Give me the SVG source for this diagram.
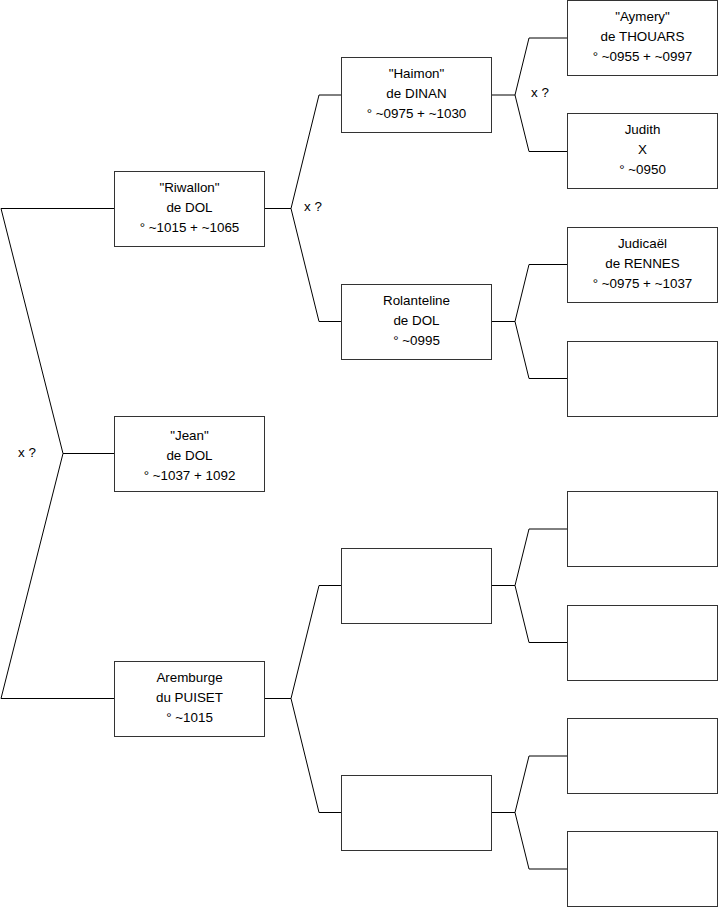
<svg xmlns="http://www.w3.org/2000/svg" width="719" height="908" viewBox="0 0 719 908">
<style>
.box{fill:#fff;stroke:#333;stroke-width:1}
.ln{fill:none;stroke:#000;stroke-width:1}
text{font-family:"Liberation Sans",Arial,sans-serif;font-size:13.4px;fill:#000}
.c{text-anchor:middle}
</style>
<rect width="719" height="908" fill="#fff"/>
<g id="connectors">
<polyline class="ln" points="114,208.5 1,208.5 63,453.5 1,698.5 114,698.5"/>
<line class="ln" x1="63" y1="453.5" x2="114" y2="453.5"/>
<polyline class="ln" points="341,95 319,95 291,208.5 319,321.5 341,321.5"/>
<line class="ln" x1="265" y1="208.5" x2="291" y2="208.5"/>
<polyline class="ln" points="341,585.5 319,585.5 291,698.5 319,812.5 341,812.5"/>
<line class="ln" x1="265" y1="698.5" x2="291" y2="698.5"/>
<polyline class="ln" points="567,38 529,38 515,95 529,151.5 567,151.5"/>
<line class="ln" x1="491" y1="95" x2="515" y2="95"/>
<polyline class="ln" points="567,264.5 529,264.5 515,321.5 529,378.5 567,378.5"/>
<line class="ln" x1="491" y1="321.5" x2="515" y2="321.5"/>
<polyline class="ln" points="567,529 529,529 515,585.5 529,642.5 567,642.5"/>
<line class="ln" x1="491" y1="585.5" x2="515" y2="585.5"/>
<polyline class="ln" points="567,756 529,756 515,812.5 529,869 567,869"/>
<line class="ln" x1="491" y1="812.5" x2="515" y2="812.5"/>
<text x="18" y="457">x ?</text>
<text x="304" y="211">x ?</text>
<text x="531" y="97">x ?</text>
</g>
<g id="jean"><rect class="box" x="114.5" y="416.5" width="150" height="75"/>
<text class="c" x="189.5" y="440">"Jean"</text><text class="c" x="189.5" y="460">de DOL</text><text class="c" x="189.5" y="480">° ~1037 + 1092</text></g>
<g id="riwallon"><rect class="box" x="114.5" y="171.5" width="150" height="75"/>
<text class="c" x="189.5" y="192">"Riwallon"</text><text class="c" x="189.5" y="212">de DOL</text><text class="c" x="189.5" y="232">° ~1015 + ~1065</text></g>
<g id="aremburge"><rect class="box" x="114.5" y="661.5" width="150" height="75"/>
<text class="c" x="189.5" y="682">Aremburge</text><text class="c" x="189.5" y="702">du PUISET</text><text class="c" x="189.5" y="722">° ~1015</text></g>
<g id="haimon"><rect class="box" x="341.5" y="57.5" width="150" height="75"/>
<text class="c" x="416.5" y="78">"Haimon"</text><text class="c" x="416.5" y="98">de DINAN</text><text class="c" x="416.5" y="118">° ~0975 + ~1030</text></g>
<g id="rolanteline"><rect class="box" x="341.5" y="284.5" width="150" height="75"/>
<text class="c" x="416.5" y="305">Rolanteline</text><text class="c" x="416.5" y="325">de DOL</text><text class="c" x="416.5" y="345">° ~0995</text></g>
<g id="empty1"><rect class="box" x="341.5" y="548.5" width="150" height="75"/></g>
<g id="empty2"><rect class="box" x="341.5" y="775.5" width="150" height="75"/></g>
<g id="aymery"><rect class="box" x="567.5" y="0.5" width="150" height="75"/>
<text class="c" x="642.5" y="21">"Aymery"</text><text class="c" x="642.5" y="41">de THOUARS</text><text class="c" x="642.5" y="61">° ~0955 + ~0997</text></g>
<g id="judith"><rect class="box" x="567.5" y="113.5" width="150" height="75"/>
<text class="c" x="642.5" y="134">Judith</text><text class="c" x="642.5" y="154">X</text><text class="c" x="642.5" y="174">° ~0950</text></g>
<g id="judicael"><rect class="box" x="567.5" y="227.5" width="150" height="75"/>
<text class="c" x="642.5" y="248">Judicaël</text><text class="c" x="642.5" y="268">de RENNES</text><text class="c" x="642.5" y="288">° ~0975 + ~1037</text></g>
<g id="empty3"><rect class="box" x="567.5" y="341.5" width="150" height="75"/></g>
<g id="empty4"><rect class="box" x="567.5" y="491.5" width="150" height="75"/></g>
<g id="empty5"><rect class="box" x="567.5" y="605.5" width="150" height="75"/></g>
<g id="empty6"><rect class="box" x="567.5" y="718.5" width="150" height="75"/></g>
<g id="empty7"><rect class="box" x="567.5" y="831.5" width="150" height="75"/></g>
</svg>
